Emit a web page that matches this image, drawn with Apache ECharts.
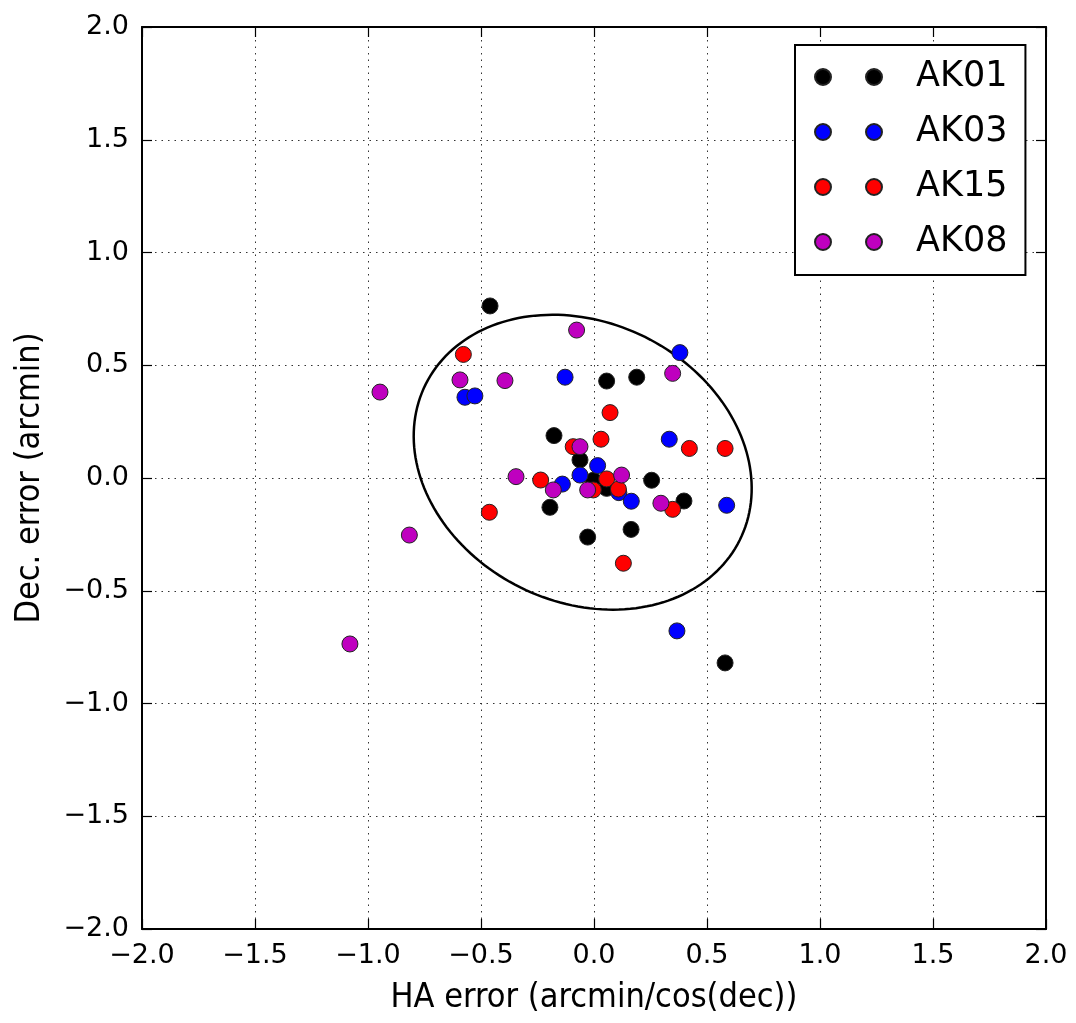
<!DOCTYPE html>
<html>
<head>
<meta charset="utf-8">
<script src="https://cdn.jsdelivr.net/npm/echarts@6/dist/echarts.min.js"></script>
<style>html,body{margin:0;padding:0;background:#fff}#c{width:1076px;height:1023px}</style>
</head>
<body>
<div id="c"></div>
<script>
// ---- data ----
var seriesNames = ['AK01', 'AK03', 'AK15', 'AK08'];
var seriesColors = ['#000000', '#0000ff', '#ff0000', '#bf00bf'];

var ak01 = [[-0.46, 0.763], [0.056, 0.43], [0.189, 0.447], [-0.177, 0.188], [-0.062, 0.08],
  [-0.003, -0.01], [0.056, -0.046], [0.255, -0.01], [0.398, -0.102], [-0.195, -0.13],
  [0.164, -0.228], [-0.028, -0.262], [0.58, -0.82]];
var ak03 = [[0.38, 0.556], [-0.128, 0.447], [-0.571, 0.358], [-0.527, 0.364], [0.333, 0.172],
  [0.016, 0.055], [-0.062, 0.013], [-0.14, -0.027], [0.11, -0.065], [0.165, -0.103],
  [0.587, -0.121], [0.367, -0.678]];
var ak15 = [[-0.578, 0.548], [0.071, 0.29], [0.031, 0.172], [-0.092, 0.139], [0.422, 0.131],
  [0.58, 0.131], [-0.236, -0.009], [0.056, -0.004], [0.108, -0.049], [-0.003, -0.053],
  [0.348, -0.139], [-0.463, -0.152], [0.13, -0.378]];
var ak08 = [[-0.077, 0.656], [-0.593, 0.435], [-0.394, 0.432], [0.348, 0.464], [-0.062, 0.139],
  [-0.345, 0.006], [0.122, 0.013], [-0.18, -0.053], [-0.028, -0.053], [0.296, -0.112],
  [-0.817, -0.253], [-0.947, 0.381], [-1.08, -0.736]];

// ellipse: centre x, centre y, semi-major, semi-minor, rotation (deg)
var ellipseParams = [[-0.05, 0.07, 0.776, 0.620, -26.4]];

var xTicks = [-2.0, -1.5, -1.0, -0.5, 0.0, 0.5, 1.0, 1.5, 2.0];
var yTicks = [-2.0, -1.5, -1.0, -0.5, 0.0, 0.5, 1.0, 1.5, 2.0];
var xLabel = 'HA error (arcmin/cos(dec))';
var yLabel = 'Dec. error (arcmin)';

// ---- chart ----
var FONT_C = "'DejaVu Sans Condensed', 'DejaVu Sans', sans-serif";
var FONT = "'DejaVu Sans', sans-serif";
function fmt(v) { return (v < 0 ? '\u2212' : '') + Math.abs(v).toFixed(1); }
var allData = [ak01, ak03, ak15, ak08];
var twoDots = 'path://M0,8a8,8 0 1,0 16,0a8,8 0 1,0 -16,0M51,8a8,8 0 1,0 16,0a8,8 0 1,0 -16,0';

function axisCommon(pos, ticks, showLabel, showSplit) {
  return {
    type: 'value', position: pos,
    min: ticks[0], max: ticks[ticks.length - 1], interval: ticks[1] - ticks[0],
    axisLine: { show: true, onZero: false, lineStyle: { color: '#000', width: 2 } },
    axisTick: { show: true, inside: true, length: 10, lineStyle: { color: '#000', width: 1.2 } },
    axisLabel: { show: showLabel, formatter: fmt, color: '#000', fontSize: 27, fontFamily: FONT, margin: 13 },
    splitLine: { show: showSplit, lineStyle: { color: '#333', width: 1, type: [1.5, 5] } }
  };
}

var xa0 = axisCommon('bottom', xTicks, true, true);
xa0.name = xLabel; xa0.nameLocation = 'middle'; xa0.nameGap = 52;
xa0.nameTextStyle = { fontSize: 34, fontFamily: FONT_C, color: '#000' };
var xa1 = axisCommon('top', xTicks, false, false);
var ya0 = axisCommon('left', yTicks, true, true);
ya0.name = yLabel; ya0.nameLocation = 'middle'; ya0.nameGap = 95; ya0.nameRotate = 90;
ya0.nameTextStyle = { fontSize: 34, fontFamily: FONT_C, color: '#000' };
var ya1 = axisCommon('right', yTicks, false, false);

var series = [{
  type: 'custom',
  name: 'ellipse',
  silent: true,
  z: 1,
  data: ellipseParams,
  encode: { x: 0, y: 1 },
  renderItem: function (params, api) {
    var cx = api.value(0), cy = api.value(1), a = api.value(2), b = api.value(3);
    var th = api.value(4) * Math.PI / 180;
    var pts = [];
    var N = 180;
    for (var i = 0; i < N; i++) {
      var t = 2 * Math.PI * i / N;
      var dx = a * Math.cos(t), dy = b * Math.sin(t);
      pts.push(api.coord([cx + dx * Math.cos(th) - dy * Math.sin(th),
                          cy + dx * Math.sin(th) + dy * Math.cos(th)]));
    }
    return { type: 'polygon', shape: { points: pts }, style: { fill: 'none', stroke: '#000', lineWidth: 2.5 } };
  }
}];
for (var s = 0; s < seriesNames.length; s++) {
  series.push({
    type: 'scatter', name: seriesNames[s], data: allData[s], z: 3 + s,
    symbol: 'circle', symbolSize: 16,
    itemStyle: { color: seriesColors[s], borderColor: '#222', borderWidth: 1, opacity: 1 },
    emphasis: { disabled: true }
  });
}

var chart = echarts.init(document.getElementById('c'), null, { renderer: 'canvas' });
chart.setOption({
  animation: false,
  backgroundColor: '#fff',
  grid: { left: 142, right: 30, top: 27, bottom: 94, containLabel: false },
  xAxis: [xa0, xa1],
  yAxis: [ya0, ya1],
  legend: {
    orient: 'vertical', left: 795, top: 45,
    data: seriesNames.map(function (n) { return { name: n, icon: twoDots }; }),
    itemWidth: 67, itemHeight: 16, itemGap: 15,
    padding: [12, 18, 13, 19],
    borderColor: '#000', borderWidth: 2, backgroundColor: '#fff',
    selectedMode: false,
    textStyle: { fontSize: 35, fontFamily: FONT, color: '#000', lineHeight: 40, padding: [0, 0, 0, 29] },
    z: 10
  },
  series: series
});
</script>
</body>
</html>
